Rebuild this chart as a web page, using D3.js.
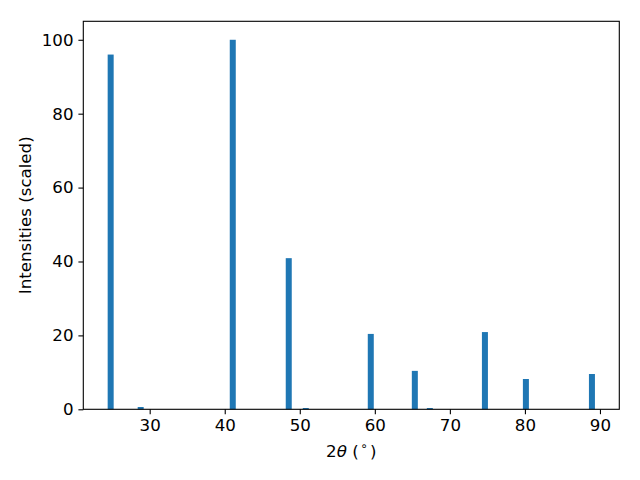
<!DOCTYPE html>
<html>
<head>
<meta charset="utf-8">
<script src="https://cdn.jsdelivr.net/npm/d3@7"></script>
<style>
  html, body { margin: 0; padding: 0; background: #fff; }
  svg { display: block; }
  text { font-family: "DejaVu Sans", sans-serif; fill: #000; }
</style>
</head>
<body>
<svg id="chart" width="640" height="480"></svg>
<script>
// Data
const twoTheta = [24.8, 28.8, 41.07, 48.53, 50.8, 59.46, 65.33, 67.33, 74.67, 80.13, 88.93];
const intensity = [96, 0.62, 100, 40.9, 0.35, 20.4, 10.4, 0.35, 20.9, 8.2, 9.55];
const xTicks = [30, 40, 50, 60, 70, 80, 90];
const yTicks = [0, 20, 40, 60, 80, 100];
const barWidth = 0.8;

const mL = 83.3, mR = 619.3, mT = 21.3, mB = 409.3;
const svg = d3.select("#chart");

// matplotlib-style auto limits with 5% margins
const lo = d3.min(twoTheta) - barWidth / 2, hi = d3.max(twoTheta) + barWidth / 2;
const mx = (hi - lo) * 0.05;
const x = d3.scaleLinear().domain([lo - mx, hi + mx]).range([mL, mR]);
const ymax = d3.max(intensity);
const y = d3.scaleLinear().domain([0, ymax * 1.05]).range([mB, mT]);

const data = twoTheta.map((t, i) => ({ t, v: intensity[i] }));

svg.append("g").selectAll("rect").data(data).join("rect")
  .attr("x", d => x(d.t - barWidth / 2))
  .attr("width", d => x(d.t + barWidth / 2) - x(d.t - barWidth / 2))
  .attr("y", d => y(d.v))
  .attr("height", d => y(0) - y(d.v))
  .attr("fill", "#1f77b4");

const fs = 16.67;
const xAxis = svg.append("g").attr("transform", `translate(0,${mB})`)
  .call(d3.axisBottom(x).tickValues(xTicks).tickSize(4.9).tickPadding(4.9).tickFormat(d3.format("d")));
const yAxis = svg.append("g").attr("transform", `translate(${mL},0)`)
  .call(d3.axisLeft(y).tickValues(yTicks).tickSize(4.9).tickPadding(4.9).tickFormat(d3.format("d")));
[xAxis, yAxis].forEach(g => {
  g.select(".domain").remove();
  g.selectAll(".tick line").attr("stroke", "#000").attr("stroke-width", 1.1);
  g.selectAll(".tick text").attr("font-size", fs).attr("font-family", "DejaVu Sans").attr("fill", "#000");
});

// frame
svg.append("rect").attr("x", mL).attr("y", mT)
  .attr("width", mR - mL).attr("height", mB - mT)
  .attr("fill", "none").attr("stroke", "#000").attr("stroke-width", 1.1);

// x label: 2θ (°)
const xl = svg.append("text")
  .attr("x", (mL + mR) / 2).attr("y", 456.5)
  .attr("text-anchor", "middle").attr("font-size", fs);
xl.append("tspan").text("2");
xl.append("tspan").attr("font-style", "italic").text("θ");
xl.append("tspan").text(" (");
xl.append("tspan").attr("font-size", fs * 0.7).attr("dx", 1.5).attr("dy", -7).text("∘");
xl.append("tspan").attr("dx", 2.5).attr("dy", 7).text(")");

// y label
svg.append("text")
  .attr("transform", `translate(31,${(mT + mB) / 2}) rotate(-90)`)
  .attr("text-anchor", "middle").attr("font-size", fs)
  .text("Intensities (scaled)");
</script>
</body>
</html>
